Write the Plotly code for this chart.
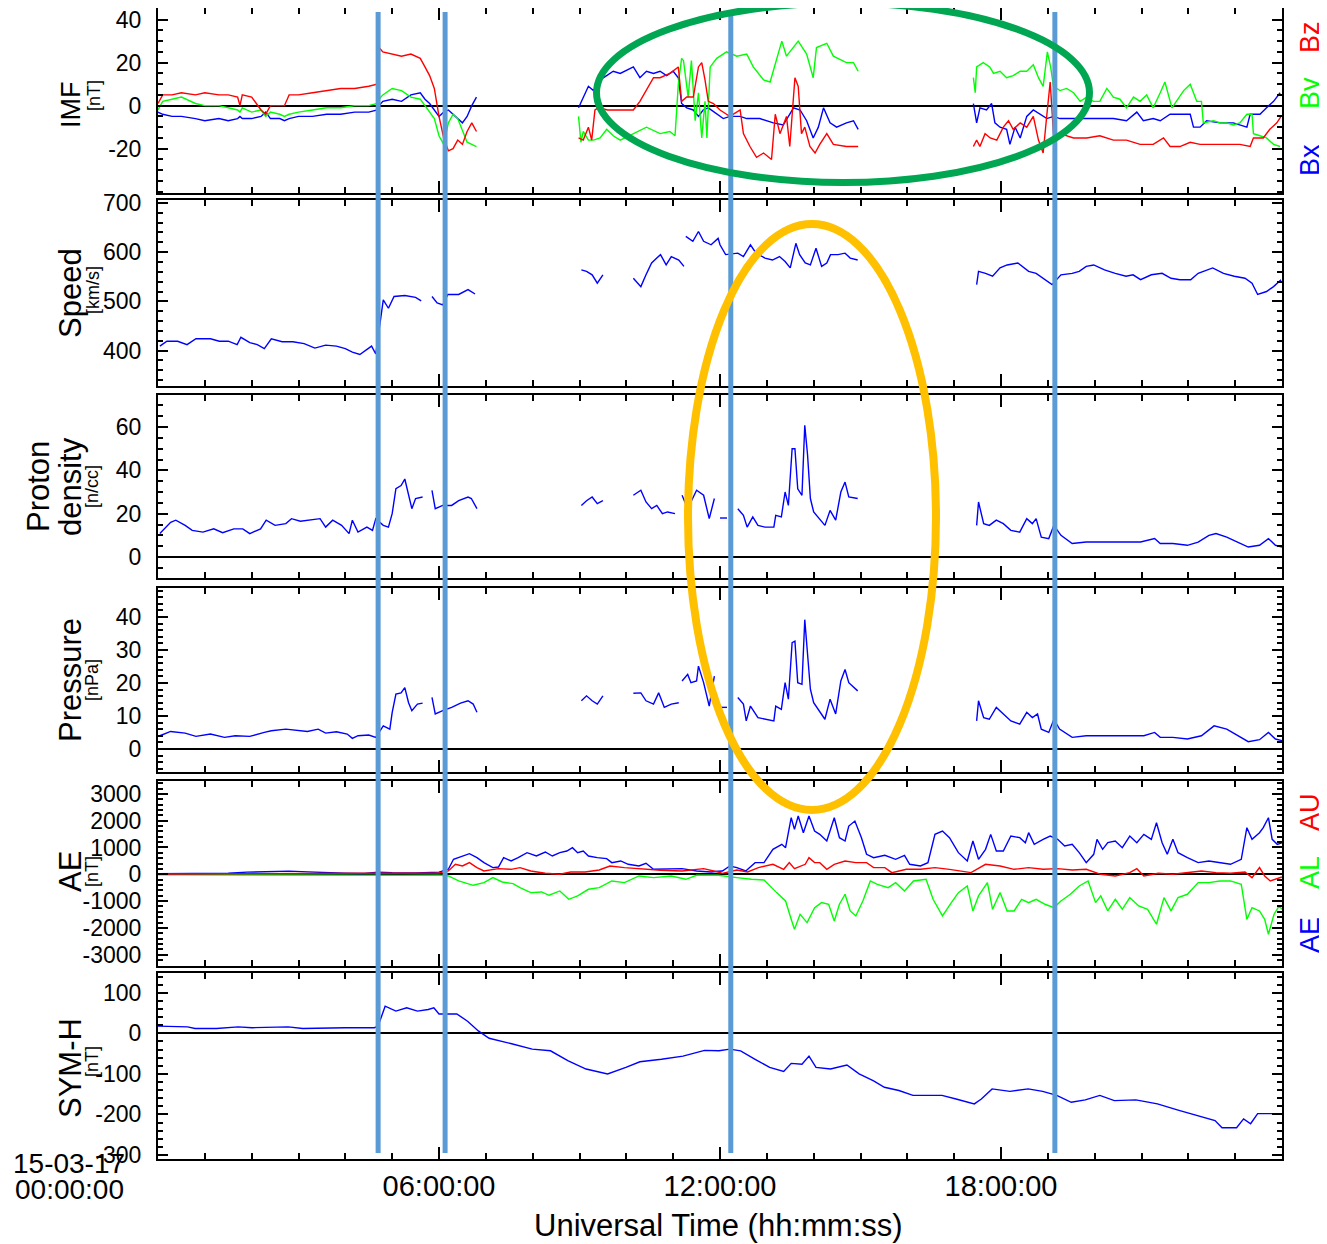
import plotly.graph_objects as go

# ---------------- DATA (hours UT on 2015-03-17) ----------------
N = None
# IMF
bz_t = [0.0,0.1,0.3,0.5,0.8,1.0,1.3,1.5,1.7,1.75,1.8,2.0,2.2,2.3,2.4,2.6,2.7,2.8,3.0,3.3,3.6,3.9,4.2,4.5,4.68,
        4.72,4.8,5.0,5.2,5.4,5.6,5.7,5.8,5.9,6.0,6.1,6.2,6.3,6.4,6.5,6.6,6.7,6.8, N,
        8.98,9.08,9.19,9.26,9.33,9.40,9.6,9.87,10.15,10.29,10.43,10.58,10.72,10.93,11.11,11.18,11.29,11.43,11.54,11.61,
        11.68,11.75,11.86,12.0,12.14,12.21,12.43,12.50,12.64,12.78,12.93,13.10,13.18,13.28,13.42,13.49,13.60,13.67,
        13.74,13.81,13.92,14.03,14.13,14.28,14.42,14.70,14.95, N,
        17.41,17.48,17.55,17.66,17.77,17.91,18.05,18.16,18.26,18.41,18.55,18.69,18.80,18.90,18.98,19.05,19.12,19.26,
        19.55,19.83,20.11,20.40,20.68,20.97,21.25,21.47,21.61,21.82,22.04,22.25,22.54,22.82,23.10,23.32,23.39,23.60,
        23.74,23.89,23.98]
bz_v = [1,5,5,6,5,6,5,5,4,0,5,4,-2,-4,0,0,0,5,5,6,7,8,8,9,10,
        27,25,24,23,24,22,18,14,8,-5,-15,-21,-20,-16,-18,-12,-8,-12, N,
        -15,-16,-10,-16,-2,-1,-2,-2,-2,2,7,13,13,15,18,2,4,4,18,20,
        12,2,1,-2,-4,-5,-2,-13,-19,-24,-22,-25,-4,-13,-5,-19,13,9,
        -13,-10,-19,-22,-18,-13,-18,-19,-19, N,
        -19,-16,-19,-13,-15,-16,-10,-7,-11,-8,-10,-5,-16,-22,-4,11,-13,-13,
        -15,-15,-14,-16,-16,-18,-18,-15,-19,-19,-17,-18,-18,-18,-18,-19,-15,-15,
        -11,-8,-5]

by_t = [0.0,0.1,0.3,0.5,0.8,1.0,1.3,1.5,1.7,1.75,1.8,2.0,2.2,2.3,2.4,2.6,2.7,2.8,3.0,3.3,3.6,3.9,4.2,4.5,4.68,
        4.72,4.8,5.0,5.2,5.4,5.6,5.7,5.8,5.9,6.0,6.1,6.2,6.3,6.4,6.5,6.6,6.7,6.8, N,
        8.98,9.03,9.08,9.19,9.30,9.44,9.58,9.72,9.87,10.15,10.43,10.72,10.93,11.04,11.11,11.18,11.22,11.32,11.39,11.47,
        11.54,11.61,11.68,11.72,11.79,11.93,12.14,12.36,12.57,12.71,12.93,13.07,13.21,13.32,13.42,13.57,13.67,13.85,
        13.99,14.06,14.28,14.42,14.70,14.85,14.95, N,
        17.41,17.45,17.48,17.62,17.76,17.84,17.98,18.12,18.26,18.41,18.55,18.69,18.80,18.90,18.99,19.06,19.12,19.26,
        19.40,19.55,19.69,19.83,19.97,20.11,20.26,20.40,20.54,20.68,20.83,20.97,21.11,21.25,21.40,21.50,21.65,21.75,
        21.90,22.04,22.18,22.28,22.32,22.54,22.68,22.82,22.96,23.10,23.25,23.36,23.39,23.53,23.67,23.82,23.96]
by_v = [-2,2,3,4,1,0,0,-1,-2,-3,-1,-3,-2,-5,-3,-4,-5,-4,-3,-2,-1,-1,0,0,1,
        3,5,8,7,4,3,0,-3,-6,-14,-18,-8,-4,-6,-12,-17,-18,-19, N,
        -5,-17,-12,-16,-16,-15,-11,-14,-16,-13,-10,-13,-12,-14,10,22,21,4,21,-7,
        6,-15,2,-15,18,22,25,23,24,18,12,11,21,30,23,27,30,24,
        13,27,29,23,20,20,16, N,
        13,6,18,20,18,15,16,13,14,16,16,19,13,9,25,18,9,7,
        8,6,2,4,2,2,8,4,3,-1,4,2,5,-1,6,11,-1,2,
        7,10,2,2,-8,-7,-8,-8,-9,-8,-4,-4,-13,-14,-15,-18,-19]

bx_t = [0.0,0.1,0.3,0.5,0.8,1.0,1.3,1.5,1.7,1.75,1.8,2.0,2.2,2.3,2.4,2.6,2.7,2.8,3.0,3.3,3.6,3.9,4.2,4.5,4.68,
        4.72,4.8,5.0,5.2,5.4,5.6,5.7,5.8,5.9,6.0,6.1,6.2,6.3,6.4,6.5,6.6,6.7,6.8, N,
        8.98,9.08,9.19,9.30,9.44,9.58,9.72,9.87,10.15,10.29,10.43,10.58,10.72,10.86,11.00,11.11,11.18,11.29,11.43,11.54,
        11.64,11.75,11.93,12.07,12.21,12.43,12.57,12.85,13.14,13.35,13.57,13.71,13.85,13.99,14.10,14.21,14.35,14.49,
        14.70,14.85,14.95, N,
        17.41,17.48,17.55,17.69,17.80,17.87,17.98,18.12,18.19,18.30,18.41,18.55,18.69,18.83,18.98,19.12,19.26,19.55,
        19.83,20.11,20.40,20.68,20.90,21.04,21.25,21.40,21.61,21.82,22.04,22.11,22.25,22.39,22.68,22.96,23.25,23.32,
        23.53,23.67,23.82,23.96]
bx_v = [-3,-4,-5,-5,-6,-7,-6,-7,-6,-5,-6,-6,-5,-3,-6,-6,-7,-6,-5,-5,-4,-4,-3,-3,-2,
        0,2,3,2,5,6,3,1,-2,-5,-3,-2,-4,-6,-8,-5,0,4, N,
        -1,4,9,7,12,14,16,15,18,13,16,15,16,14,16,13,1,-1,-2,-5,
        -2,-1,-4,-6,-5,-5,-6,-6,-8,-9,-1,-2,-7,-15,-10,-1,-8,-10,
        -8,-7,-11, N,
        1,-8,-1,-2,1,-8,-10,-11,-18,-10,-15,-5,-2,-4,-6,-5,-6,-6,
        -6,-6,-6,-7,-3,-7,-6,-7,-4,-4,-4,-10,-10,-7,-8,-8,-10,-4,
        -4,-1,2,6]

# Solar wind speed [km/s]
sp_t = [0.04,0.19,0.42,0.62,0.81,1.12,1.31,1.5,1.69,1.77,1.96,2.12,2.27,2.42,2.65,2.88,3.12,3.35,3.58,3.81,4.0,4.15,
        4.31,4.42,4.56,4.65,4.81,4.92,5.04,5.27,5.5,5.62,N,5.85,5.96,6.08,6.19,6.42,6.62,6.77,N,
        9.04,9.15,9.27,9.38,9.5,N,9.77,N,10.15,10.31,10.42,10.54,10.65,10.73,10.85,10.96,11.12,11.23,N,11.27,11.42,
        11.54,11.65,11.81,11.96,12.0,12.12,12.38,12.5,12.65,12.77,12.96,13.12,13.27,13.39,13.5,13.62,13.7,13.82,13.93,
        14.05,14.17,14.28,14.36,14.52,14.67,14.78,14.94,N,
        17.48,17.52,17.67,17.82,17.98,18.13,18.36,18.59,18.75,18.9,19.09,19.28,19.52,19.67,19.82,19.98,20.21,20.44,
        20.67,20.82,20.98,21.21,21.44,21.63,21.82,22.05,22.21,22.52,22.75,22.98,23.21,23.36,23.48,23.67,23.82,23.98]
sp_v = [409,419,419,412,424,424,419,419,412,427,416,412,404,424,418,418,414,405,411,409,404,397,
        392,399,409,393,503,486,510,512,508,501,N,510,497,493,514,514,524,515,N,
        564,561,554,537,554,N,534,N,547,530,554,578,588,595,574,591,584,571,N,632,622,
        642,622,615,628,615,595,598,591,615,598,588,584,591,581,568,618,595,578,574,
        608,571,578,595,595,598,588,584,N,
        534,561,557,551,568,574,578,561,557,547,534,554,557,561,571,574,564,557,
        551,554,544,554,557,547,544,544,557,568,557,551,547,537,514,520,530,544]

# Proton density [n/cc]
dn_t = [0.04,0.27,0.38,0.58,0.73,0.96,1.19,1.38,1.62,1.81,1.96,2.19,2.31,2.5,2.73,2.85,3.04,3.27,3.46,3.58,3.73,
        3.92,4.08,4.15,4.27,4.46,4.58,4.65,4.81,4.92,5.0,5.08,5.19,5.27,5.35,5.42,5.5,5.65,N,5.85,5.92,6.08,6.27,
        6.42,6.62,6.69,6.81,N,
        9.04,9.15,9.27,9.38,9.5,N,9.77,N,10.15,10.31,10.42,10.54,10.65,10.77,10.88,11.04,N,11.19,11.31,11.5,11.65,
        11.77,11.88,N,12.0,12.15,N,12.38,12.5,12.58,12.7,12.81,12.96,13.15,13.19,13.31,13.39,13.46,13.54,13.6,13.66,
        13.75,13.81,13.87,13.93,14.0,14.12,14.24,14.35,14.47,14.58,14.67,14.75,14.94,N,
        17.48,17.52,17.63,17.75,17.9,18.05,18.21,18.4,18.55,18.67,18.75,18.86,19.02,19.13,19.28,19.52,19.82,20.13,
        20.44,20.75,20.98,21.28,21.4,21.67,21.98,22.21,22.44,22.59,22.82,23.05,23.28,23.52,23.71,23.86,24.0]
dn_v = [10.8,16,17,14.6,12.3,11.5,13,11.2,13,13,10.8,13,17,14.6,15.4,17.7,16.5,17,17.7,13.8,17,
        14.6,10.8,17,11.5,13.8,12.3,17.7,14.6,13.8,20,31.5,33,36,28.5,22.3,27,27.7,N,30.8,22.3,23.8,23.8,
        26,27.7,27,22.3,N,
        23.8,26,27.7,24.6,26,N,30.8,N,28.5,30.8,25.4,22.3,23.8,20,20.8,20,N,28.5,22.3,30.8,28.5,
        17.7,27,N,18,18,N,22.3,19.2,13.8,18.5,14.6,13.8,13.8,19.2,18.5,30,23.8,50,50,31.5,
        28.5,60.8,47,27,20.8,17.7,14.6,21.5,17,30,34.6,27.7,27,N,
        14.6,25.4,15.4,14.6,17,15.4,12.3,11.5,17.7,15.4,17.7,9.2,8.5,14.6,10,6.2,6.9,6.9,
        6.9,7.2,6.9,8.5,6.2,6.2,5.4,6.9,10,10.8,9.2,6.9,4.6,5.4,8.5,5.4,4.6]

# Dynamic pressure [nPa]
pr_t = [0.04,0.27,0.58,0.81,1.12,1.42,1.65,1.96,2.27,2.42,2.73,2.88,3.19,3.42,3.58,3.81,4.04,4.15,4.27,4.5,4.65,
        4.81,4.95,5.0,5.08,5.19,5.27,5.35,5.42,5.54,5.65,N,5.85,5.92,6.08,6.27,6.46,6.62,6.73,6.81,N,
        9.04,9.15,9.27,9.38,9.5,N,9.77,N,10.15,10.31,10.42,10.58,10.69,10.81,10.96,11.12,N,11.19,11.31,11.38,11.5,
        11.54,11.65,11.77,11.88,N,12.0,12.15,N,12.38,12.5,12.56,12.65,12.81,12.96,13.15,13.19,13.31,13.39,13.46,13.54,
        13.6,13.66,13.75,13.81,13.87,13.93,14.0,14.12,14.24,14.35,14.47,14.58,14.67,14.75,14.94,N,
        17.48,17.52,17.63,17.75,17.9,18.05,18.21,18.4,18.55,18.67,18.78,18.86,19.02,19.13,19.25,19.52,19.82,20.13,
        20.44,20.75,21.05,21.28,21.4,21.67,21.98,22.28,22.55,22.82,23.05,23.28,23.52,23.71,23.86,24.0]
pr_v = [4.0,5.3,4.8,3.8,4.5,3.5,4.0,3.8,5.0,5.5,6.0,5.8,5.3,6.0,4.8,5.2,4.5,3.2,4.0,4.2,3.5,
        7.0,6.0,11,16.6,17,18.6,14,11.6,13.6,13.9,N,15.6,10.6,11.6,12.6,13.9,14.6,13.6,11.1,N,
        14.6,16.1,14.6,13.6,16.1,N,16.9,N,16.9,17,14.6,13.6,17,12.6,13.6,14,N,20.6,22.6,20.1,20.6,
        25.1,20.1,13,22.1,N,12.6,12.6,N,15.6,13.6,8.5,13,9.5,9.0,8.5,13,12,20.1,15.1,32.2,
        32.7,20.1,19.6,39.2,29.1,18.1,14,11.6,9.0,15.1,10.6,20.6,24.1,20.1,17.6,N,
        8.5,14.6,9.5,9.0,12.6,10.6,8.5,7.5,11.1,9.5,10.6,6.0,5.0,9.0,6.0,3.5,4.0,4.0,
        4.0,3.8,4.0,5.0,3.5,3.5,3.0,4.0,7.0,6.0,4.0,2.2,2.8,5.0,3.0,2.5]

# Auroral indices [nT]
ae_t = [0,0.5,1.0,1.5,1.9,2.3,2.8,3.2,3.6,4.0,4.4,4.7,5.0,5.5,6.0,6.2,6.31,6.5,6.65,6.81,6.96,7.15,7.27,7.38,7.54,
        7.69,7.88,8.08,8.27,8.42,8.58,8.73,8.85,8.96,9.08,9.19,9.38,9.58,9.69,9.88,10.04,10.27,10.42,10.58,10.88,11.19,
        11.5,11.81,11.96,12.05,12.21,12.36,12.55,12.75,12.94,13.13,13.32,13.4,13.52,13.59,13.67,13.78,13.9,14.02,14.13,
        14.28,14.44,14.55,14.67,14.75,14.88,15.02,15.13,15.28,15.52,15.75,15.94,16.05,16.28,16.44,16.59,16.75,16.9,
        17.09,17.28,17.4,17.52,17.67,17.78,17.9,18.05,18.21,18.4,18.52,18.59,18.71,18.9,19.05,19.21,19.36,19.52,19.67,
        19.82,19.98,20.05,20.17,20.28,20.44,20.59,20.75,20.9,21.05,21.21,21.32,21.44,21.55,21.67,21.78,21.98,22.21,
        22.44,22.67,22.9,23.13,23.25,23.36,23.52,23.6,23.71,23.79,23.9,24.0]
ae_v = [20,30,20,40,80,100,120,90,60,40,30,80,60,50,80,190,560,683,770,620,435,250,273,620,497,
        620,807,683,832,683,807,870,994,807,870,683,620,584,435,497,373,310,410,186,211,211,
        124,87,112,124,310,250,124,435,435,932,1118,994,2111,1677,2174,1553,2174,1615,1490,
        1242,2111,1366,1242,1801,1987,1366,745,621,708,559,708,373,310,435,1490,1615,1366,
        807,497,1242,559,932,1490,870,870,1428,1366,1180,1553,1118,1304,1428,1304,1056,1118,807,
        435,745,1304,932,1180,1242,994,1428,1180,1490,1304,1925,1180,745,1304,807,621,435,
        497,435,373,559,1739,1304,1553,1739,2111,1304,1118,1180]

au_t = [0,1.0,2.0,3.0,4.0,4.7,5.2,6.0,6.2,6.35,6.5,6.65,6.81,6.96,7.27,7.54,7.73,7.96,8.27,8.58,8.81,9.12,9.42,9.65,
        9.96,10.35,10.73,11.19,11.65,11.96,12.05,12.36,12.59,12.82,13.13,13.36,13.48,13.59,13.82,13.9,14.02,14.13,
        14.28,14.44,14.67,14.9,15.13,15.28,15.52,15.67,15.98,16.28,16.59,16.9,17.36,17.67,17.98,18.28,18.59,18.9,
        19.21,19.52,19.82,20.13,20.44,20.75,20.9,21.05,21.36,21.67,21.98,22.28,22.59,22.9,23.21,23.36,23.52,23.63,
        23.75,23.9,24.0]
au_v = [10,15,30,40,25,40,30,50,124,373,310,435,250,124,211,186,250,124,37,0,87,87,161,310,
        250,186,149,124,211,87,37,161,87,250,373,186,435,211,373,621,435,435,
        186,373,497,435,435,250,250,62,186,186,250,186,62,373,310,186,250,186,
        211,161,186,0,-62,62,211,-62,37,0,62,124,62,37,87,-124,250,-62,
        -248,-161,-99]

al_t = [0,1.0,2.0,3.0,4.0,4.7,5.2,6.0,6.2,6.42,6.73,6.96,7.15,7.35,7.58,7.73,7.96,8.19,8.35,8.58,8.77,8.96,9.19,9.42,
        9.69,9.96,10.27,10.58,10.96,11.27,11.5,11.96,12.05,12.36,12.67,12.94,13.21,13.4,13.52,13.59,13.71,13.86,14.02,
        14.17,14.32,14.44,14.55,14.67,14.78,14.9,15.05,15.21,15.36,15.59,15.75,15.94,16.13,16.4,16.55,16.75,16.94,
        17.09,17.28,17.4,17.52,17.71,17.82,17.98,18.13,18.28,18.44,18.59,18.75,18.94,19.13,19.28,19.48,19.67,19.86,
        20.02,20.13,20.28,20.44,20.59,20.75,20.94,21.13,21.32,21.48,21.63,21.78,21.98,22.21,22.44,22.67,22.9,23.13,
        23.25,23.36,23.52,23.63,23.71,23.83,23.94,24.0]
al_v = [-20,-25,-40,-50,-30,-40,-40,-30,-62,-248,-410,-310,-124,-286,-348,-497,-683,-658,-782,-621,-932,-807,-559,-497,
        -248,-310,-62,-124,-62,-186,-37,-37,-62,-124,-186,-211,-683,-994,-1677,-2050,-1491,-1801,-1242,
        -1056,-1118,-1739,-1118,-745,-1366,-1553,-994,-248,-373,-497,-310,-621,-248,-186,-932,-1553,-1056,
        -683,-435,-1366,-807,-310,-1304,-683,-1366,-1366,-932,-1056,-932,-1118,-1242,-994,-745,-435,-248,
        -1056,-807,-1366,-932,-1304,-869,-1180,-1304,-1863,-869,-1366,-869,-745,-310,-310,-248,-248,-373,
        -1677,-1242,-1366,-1677,-2236,-1491,-1180,-1304]

# SYM-H [nT]
sym_t = [0,0.63,0.79,1.25,1.71,2.01,2.78,3.09,4.0,4.62,4.7,4.85,5.08,5.31,5.54,5.77,5.89,6.0,6.38,6.61,6.84,7.07,7.53,
         7.99,8.38,8.76,9.14,9.6,9.99,10.29,10.75,11.21,11.67,11.98,12.21,12.44,12.75,13.06,13.36,13.52,13.75,13.9,14.05,
         14.36,14.71,14.97,15.28,15.51,15.82,16.12,16.51,16.74,17.04,17.43,17.58,17.81,18.19,18.58,18.89,19.19,19.5,
         19.8,20.11,20.42,20.88,21.34,21.8,22.26,22.57,22.72,23.03,23.18,23.33,23.48,23.94,24.0]
sym_v = [18,16,12,12,16,14,16,12,14,14,18,67,55,63,55,59,63,48,48,30,6,-12,-25,
         -39,-43,-68,-88,-100,-84,-70,-64,-56,-42,-43,-39,-43,-64,-84,-94,-74,-76,-56,-84,
         -88,-78,-100,-117,-133,-141,-153,-153,-153,-162,-174,-162,-137,-143,-137,-143,-153,-170,
         -164,-153,-166,-164,-174,-190,-205,-215,-233,-233,-211,-223,-198,-198,-198]

# Event markers (UT hours)
event_times = [4.70, 6.13, 12.23, 19.15]

x_tickvals = [6, 12, 18]
x_ticktext = ["06:00:00", "12:00:00", "18:00:00"]

# y tick values per panel (labels use a plain hyphen, as in the original)
imf_ticks = [-20, 0, 20, 40]
speed_ticks = [400, 500, 600, 700]
dens_ticks = [0, 20, 40, 60]
pres_ticks = [0, 10, 20, 30, 40]
ae_ticks = [-3000, -2000, -1000, 0, 1000, 2000, 3000]
sym_ticks = [-300, -200, -100, 0, 100]

# ---------------- FIGURE ----------------
# The page body has an 8 px margin; positions below are given in page pixels.
OFF = 8
W, H = 1327, 1244
PLOT_L, PLOT_R, PLOT_T, PLOT_B = 158, 1282, 8, 1159      # page pixels
ML = PLOT_L - OFF
MR = W - (PLOT_R - OFF)
MT = PLOT_T - OFF
MB = H - (PLOT_B - OFF)
PW = PLOT_R - PLOT_L
PH = PLOT_B - PLOT_T

def xp(px):
    return (px - PLOT_L) / PW

def yp(py):
    return (PLOT_B - py) / PH

FONT = "Liberation Sans, Arial, Helvetica, sans-serif"
BLUE, RED, GREEN = "#0000FF", "#FF0000", "#00FF00"

panels = [  # (top px, bottom px) in page pixels
    (8, 193), (200, 386), (395, 578), (588, 772), (781, 966), (973, 1159)]

fig = go.Figure()

def add(t, v, color, row):
    sfx = "" if row == 1 else str(row)
    fig.add_trace(go.Scatter(x=t, y=v, mode="lines", line=dict(color=color, width=1.4),
                             connectgaps=False, showlegend=False, hoverinfo="skip",
                             xaxis="x" + sfx, yaxis="y" + sfx))

add(bx_t, bx_v, BLUE, 1)
add(by_t, by_v, GREEN, 1)
add(bz_t, bz_v, RED, 1)
add(sp_t, sp_v, BLUE, 2)
add(dn_t, dn_v, BLUE, 3)
add(pr_t, pr_v, BLUE, 4)
add(al_t, al_v, GREEN, 5)
add(ae_t, ae_v, BLUE, 5)
add(au_t, au_v, RED, 5)
add(sym_t, sym_v, BLUE, 6)

yconf = [
    dict(range=[-40.6, 45.4], tickvals=imf_ticks, minor=5, zero=True),
    dict(range=[328, 706], tickvals=speed_ticks, minor=20, zero=False),
    dict(range=[-9.7, 74.8], tickvals=dens_ticks, minor=5, zero=True),
    dict(range=[-7, 48.8], tickvals=pres_ticks, minor=2, zero=True),
    dict(range=[-3420, 3480], tickvals=ae_ticks, minor=200, zero=True),
    dict(range=[-310, 149], tickvals=sym_ticks, minor=20, zero=True),
]

layout = dict(width=W, height=H, margin=dict(l=ML, r=MR, t=MT, b=MB, pad=0, autoexpand=False),
              paper_bgcolor="white", plot_bgcolor="white", showlegend=False,
              font=dict(family=FONT, color="black"))

for i, (top, bot) in enumerate(panels):
    r = i + 1
    sfx = "" if r == 1 else str(r)
    dom = [max(0.0, yp(bot)), min(1.0, yp(top))]
    layout["xaxis" + sfx] = dict(
        domain=[0, 1], anchor="y" + sfx, range=[0, 24], showgrid=False, zeroline=False,
        automargin=False,
        showline=True, linecolor="black", linewidth=2, mirror="ticks",
        ticks="inside", ticklen=12, tickwidth=2, tickcolor="black",
        tickmode="array", tickvals=x_tickvals, ticktext=x_ticktext,
        showticklabels=(r == 6), tickfont=dict(size=29, family=FONT), ticklabelstandoff=0,
        minor=dict(ticks="inside", ticklen=6, tickwidth=1.5, tickcolor="black",
                   tickmode="linear", tick0=0, dtick=1, showgrid=False))
    c = yconf[i]
    layout["yaxis" + sfx] = dict(
        domain=dom, anchor="x" + sfx, range=c["range"], showgrid=False, automargin=False,
        zeroline=c["zero"], zerolinecolor="black", zerolinewidth=2,
        showline=True, linecolor="black", linewidth=2, mirror="ticks",
        ticks="inside", ticklen=10, tickwidth=2, tickcolor="black",
        tickmode="array", tickvals=c["tickvals"], ticktext=[str(v) for v in c["tickvals"]],
        tickfont=dict(size=23, family=FONT), ticklabelstandoff=10, ticklabeloverflow="allow",
        minor=dict(ticks="inside", ticklen=5, tickwidth=1.5, tickcolor="black",
                   tickmode="linear", tick0=0, dtick=c["minor"], showgrid=False))

fig.update_layout(**layout)

# ---- annotations ----
ann = []
def txt(text, px, py, size, color="black", angle=-90):
    ann.append(dict(text=text, x=xp(px), y=yp(py), xref="paper", yref="paper", showarrow=False,
                    textangle=angle, xanchor="center", yanchor="middle",
                    font=dict(size=size, color=color, family=FONT)))

TS, US = 31, 18
txt("IMF", 71, 105, 27); txt("[nT]", 94, 96, US)
txt("Speed", 70, 293, TS); txt("[km/s]", 93, 290, US)
txt("Proton", 38, 487, TS); txt("density", 70, 487, TS); txt("[n/cc]", 92, 487, US)
txt("Pressure", 70, 680, TS); txt("[nPa]", 92, 680, US)
txt("AE", 70, 872, TS); txt("[nT]", 92, 872, US)
txt("SYM-H", 70, 1068, TS); txt("[nT]", 92, 1062, US)

RS = 27
txt("Bz", 1310, 37, RS, RED); txt("By", 1310, 93, RS, GREEN); txt("Bx", 1310, 160, RS, BLUE)
txt("AU", 1310, 812, RS, RED); txt("AL", 1310, 873, RS, GREEN); txt("AE", 1310, 935, RS, BLUE)

txt("15-03-17", 69, 1164, 28, angle=0)
txt("00:00:00", 69, 1189, 28, angle=0)
txt("Universal Time (hh:mm:ss)", 718, 1225, 31, angle=0)
fig.update_layout(annotations=ann)

# ---- overlay shapes (event lines and highlight ellipses) ----
shapes = []
for t in event_times:
    shapes.append(dict(type="line", xref="x", yref="paper", x0=t, x1=t, y0=yp(1153), y1=yp(12),
                       line=dict(color="#5B9BD5", width=5), layer="above"))
shapes.append(dict(type="circle", xref="paper", yref="paper",
                   x0=xp(596.5), x1=xp(1089.5), y0=yp(182.5), y1=yp(3),
                   line=dict(color="#00A651", width=7), layer="above"))
shapes.append(dict(type="circle", xref="paper", yref="paper",
                   x0=xp(688), x1=xp(936), y0=yp(810), y1=yp(224),
                   line=dict(color="#FFC000", width=8), layer="above"))
fig.update_layout(shapes=shapes)

fig.write_html("out.html")
